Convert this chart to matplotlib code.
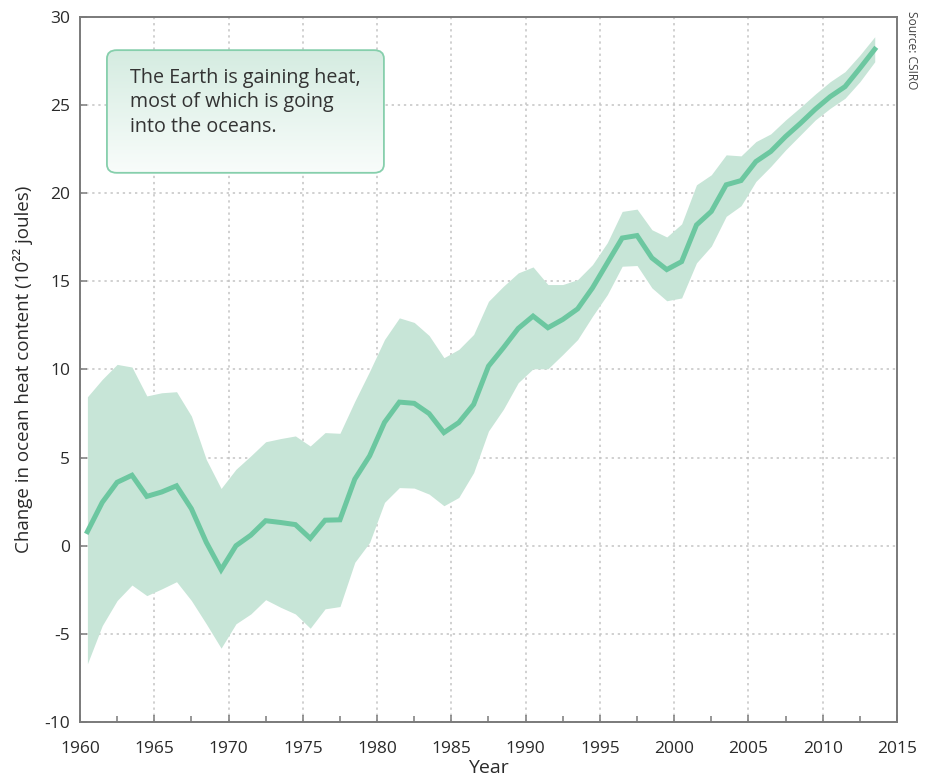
import numpy as np
import matplotlib
matplotlib.use('Agg')
import matplotlib.pyplot as plt
from matplotlib.patches import FancyBboxPatch

plt.rcParams['font.family'] = ['Open Sans', 'DejaVu Sans']
plt.rcParams['axes.unicode_minus'] = False

# annual values, plotted at mid-year
years = np.arange(1960.5, 2014.5, 1.0)
heat = [0.8, 2.46, 3.6, 4.0, 2.8, 3.05, 3.4, 2.1, 0.2, -1.36,
        0.0, 0.6, 1.42, 1.32, 1.2, 0.42, 1.45, 1.47, 3.78, 5.1,
        7.0, 8.15, 8.08, 7.5, 6.42, 6.99, 8.02, 10.19, 11.23, 12.33,
        13.03, 12.37, 12.84, 13.44, 14.63, 16.05, 17.46, 17.6, 16.33, 15.67,
        16.12, 18.2, 18.97, 20.48, 20.72, 21.8, 22.37, 23.22, 23.97, 24.77,
        25.48, 26.05, 27.09, 28.17]
upper = [8.45, 9.44, 10.29, 10.14, 8.5, 8.68, 8.74, 7.36, 4.9, 3.25,
         4.34, 5.1, 5.9, 6.08, 6.23, 5.66, 6.42, 6.38, 8.2, 9.9,
         11.7, 12.93, 12.67, 11.93, 10.67, 11.14, 11.99, 13.87, 14.72, 15.48,
         15.82, 14.82, 14.82, 15.1, 15.95, 17.2, 18.97, 19.1, 17.93, 17.52,
         18.26, 20.48, 21.05, 22.18, 22.12, 22.93, 23.37, 24.16, 24.88, 25.63,
         26.33, 26.9, 27.84, 28.88]
lower = [-6.7, -4.53, -3.11, -2.23, -2.83, -2.45, -2.04, -3.11, -4.43, -5.81,
         -4.43, -3.87, -3.06, -3.49, -3.87, -4.68, -3.58, -3.45, -0.94, 0.19,
         2.46, 3.3, 3.27, 2.93, 2.27, 2.74, 4.15, 6.51, 7.74, 9.25,
         10.04, 10.04, 10.85, 11.7, 13.02, 14.25, 15.86, 15.9, 14.63, 13.9,
         14.06, 16.05, 17.0, 18.69, 19.29, 20.67, 21.52, 22.46, 23.31, 24.16,
         24.82, 25.39, 26.33, 27.46]

line_color = '#6cc7a0'
band_color = '#c7e5d7'
spine_color = '#7a7a7a'
text_color = '#2a2a2a'

fig = plt.figure(figsize=(9.31, 7.84), dpi=100)
ax = fig.add_axes([0.0859, 0.0791, 0.8776, 0.8992])

ax.fill_between(years, lower, upper, color=band_color, lw=0, zorder=2)
ax.plot(years, heat, color=line_color, lw=3.6, solid_joinstyle='miter', zorder=3)

ax.set_xlim(1960, 2015)
ax.set_ylim(-10, 30)
ax.set_xticks(np.arange(1960, 2016, 5))
ax.set_xticks(np.arange(1962.5, 2015, 5), minor=True)
ax.set_yticks(np.arange(-10, 31, 5))
ax.grid(True, which='major', color='#c4c4c4', linestyle=(0, (1.5, 2.5)), lw=1.1, zorder=1)

for s in ax.spines.values():
    s.set_color(spine_color)
    s.set_linewidth(1.4)
ax.tick_params(which='both', direction='in', color=spine_color, width=1.1)
ax.tick_params(which='major', length=5, labelsize=12.5, labelcolor=text_color, pad=7)
ax.tick_params(which='minor', length=4)
ax.tick_params(axis='x', pad=14)

ax.set_xlabel('Year', fontsize=14, color=text_color, labelpad=1)
ax.set_ylabel('Change in ocean heat content (10²² joules)', fontsize=13.5,
              color=text_color, labelpad=8)

# annotation box with a vertical green-to-white gradient
bx0, bx1, by0, by1 = 0.033, 0.372, 0.779, 0.953
box = FancyBboxPatch((bx0, by0), bx1 - bx0, by1 - by0,
                     boxstyle='round,pad=0,rounding_size=0.012',
                     transform=ax.transAxes, facecolor='none',
                     edgecolor='#86cfac', lw=1.3, zorder=5)
ax.add_patch(box)
grad = np.linspace(0, 1, 100).reshape(-1, 1)
top_rgb = np.array([0.835, 0.925, 0.882])
bot_rgb = np.array([0.975, 0.99, 0.983])
img = top_rgb[None, None, :] * (1 - grad[:, :, None]) + bot_rgb[None, None, :] * grad[:, :, None]
im = ax.imshow(img, extent=[bx0, bx1, by0, by1], transform=ax.transAxes,
               aspect='auto', origin='upper', zorder=4)
im.set_clip_path(box)
ax.text(bx0 + 0.028, by1 - 0.025,
        'The Earth is gaining heat,\nmost of which is going\ninto the oceans.',
        transform=ax.transAxes, fontsize=14.2, color='#333333',
        va='top', ha='left', linespacing=1.3, zorder=6)

ax.set_xlim(1960, 2015)
ax.set_ylim(-10, 30)

fig.text(0.979, 0.986, 'Source: CSIRO', rotation=-90, fontsize=8.6,
         color='#444444', va='top', ha='center')

fig.savefig('out.png', dpi=100)
